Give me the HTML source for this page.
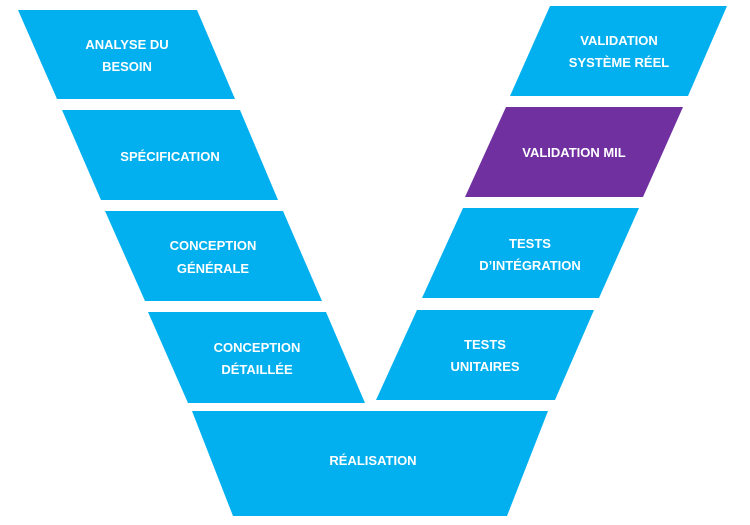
<!DOCTYPE html>
<html><head><meta charset="utf-8"><style>
html,body{margin:0;padding:0;background:#fff;width:750px;height:525px;overflow:hidden}
svg text{font-family:"Liberation Sans",sans-serif;font-weight:bold;font-size:13px;fill:#fff;text-anchor:middle}
</style></head><body>
<svg width="750" height="525" viewBox="0 0 750 525">
<g fill="#02b0ef">
<polygon points="18,10 197,10 235,99 57,99"/>
<polygon points="62,110 240,110 278,200 101,200"/>
<polygon points="105,211 283,211 322,301 145,301"/>
<polygon points="148,312 326,312 365,403 188,403"/>
<polygon points="192,411 548,411 507,516 233,516"/>
<polygon points="550,6 727,6 688,96 510,96"/>
<polygon points="463,208 639,208 599,298 422,298"/>
<polygon points="417,310 594,310 555,400 376,400"/>
</g>
<polygon points="506,107 683,107 643,197 465,197" fill="#7030a0"/>
<text x="127" y="49">ANALYSE DU</text><text x="127" y="71">BESOIN</text>
<text x="170" y="161">SPÉCIFICATION</text>
<text x="213" y="250">CONCEPTION</text><text x="213" y="273">GÉNÉRALE</text>
<text x="257" y="352">CONCEPTION</text><text x="257" y="374">DÉTAILLÉE</text>
<text x="373" y="465">RÉALISATION</text>
<text x="619" y="45">VALIDATION</text><text x="619" y="67">SYSTÈME RÉEL</text>
<text x="574" y="157">VALIDATION MIL</text>
<text x="530" y="248">TESTS</text><text x="530" y="270">D’INTÉGRATION</text>
<text x="485" y="349">TESTS</text><text x="485" y="371">UNITAIRES</text>
</svg>
</body></html>
